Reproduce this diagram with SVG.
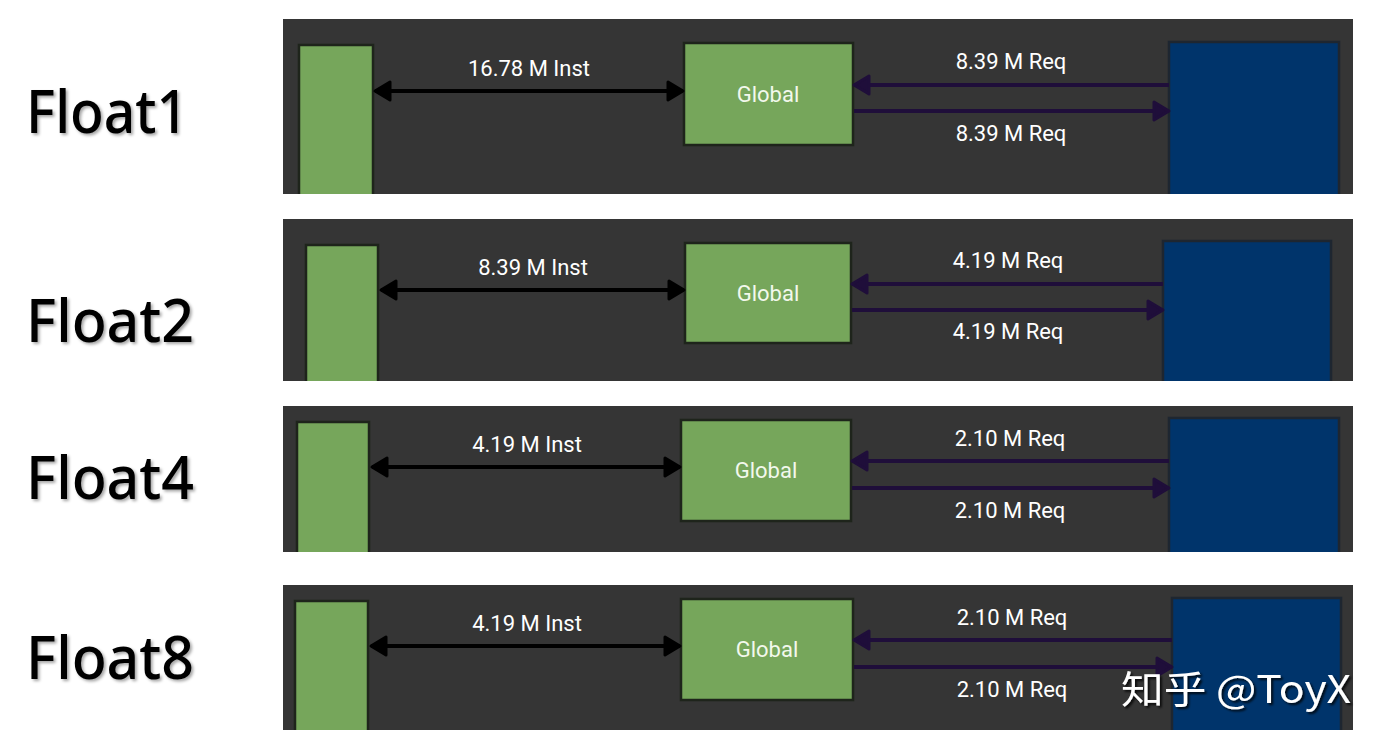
<svg xmlns="http://www.w3.org/2000/svg" width="1388" height="754" viewBox="0 0 1388 754">
<style>
.bg{fill:#353535}
.mem{fill:#76a65b;stroke:#1e241b;stroke-width:2.5}
.dram{fill:#00346b;stroke:#1e2630;stroke-width:2.5}
.lbl{font-family:Roboto,"Liberation Sans",sans-serif;font-size:22px;fill:#ffffff;text-anchor:middle}
.glb{font-family:Roboto,"Liberation Sans",sans-serif;font-size:22px;fill:#f2f8ec;text-anchor:middle}
.ttl{font-family:"Noto Sans","Open Sans",sans-serif;font-size:60px;font-weight:500;fill:#000000}
.inst{stroke:#000000;stroke-width:4;fill:none;marker-start:url(#ak);marker-end:url(#ak)}
.req{stroke:#1f0e3a;stroke-width:4;fill:none;marker-end:url(#ap)}
.wm{font-family:"Noto Sans CJK SC","Noto Sans",sans-serif;font-size:38px;fill:#ffffff}
</style>
<defs>
<marker id="ak" markerUnits="userSpaceOnUse" markerWidth="20" markerHeight="24" refX="17" refY="12" orient="auto-start-reverse" viewBox="0 0 20 24">
<path d="M2,3 L17,12 L2,21 z" fill="#000000" stroke="#000000" stroke-width="3" stroke-linejoin="round"/>
</marker>
<marker id="ap" markerUnits="userSpaceOnUse" markerWidth="20" markerHeight="24" refX="17" refY="12" orient="auto" viewBox="0 0 20 24">
<path d="M2,3 L17,12 L2,21 z" fill="#1f0e3a" stroke="#1f0e3a" stroke-width="3" stroke-linejoin="round"/>
</marker>
<filter id="sh" x="-10%" y="-10%" width="130%" height="140%">
<feDropShadow dx="2" dy="2" stdDeviation="1.5" flood-color="#000000" flood-opacity="0.35"/>
</filter>
<filter id="shw" x="-10%" y="-10%" width="130%" height="140%">
<feDropShadow dx="2" dy="2" stdDeviation="1" flood-color="#000000" flood-opacity="0.8"/>
</filter>
<clipPath id="c1"><rect x="283" y="19" width="1070" height="175"/></clipPath>
<clipPath id="c2"><rect x="283" y="219" width="1070" height="162"/></clipPath>
<clipPath id="c3"><rect x="283" y="406" width="1070" height="146"/></clipPath>
<clipPath id="c4"><rect x="283" y="585" width="1070" height="145"/></clipPath>
</defs>
<rect x="0" y="0" width="1388" height="754" fill="#ffffff"/>

<g id="titles" filter="url(#sh)">
<text class="ttl" x="26" y="133" textLength="162" lengthAdjust="spacingAndGlyphs">Float1</text>
<text class="ttl" x="26" y="342" textLength="168" lengthAdjust="spacingAndGlyphs">Float2</text>
<text class="ttl" x="26" y="499" textLength="168" lengthAdjust="spacingAndGlyphs">Float4</text>
<text class="ttl" x="26" y="679" textLength="168" lengthAdjust="spacingAndGlyphs">Float8</text>
</g>

<g id="panel1" clip-path="url(#c1)">
<rect class="bg" x="283" y="19" width="1070" height="175"/>
<g id="p1-local"><rect class="mem" x="299" y="45" width="74" height="160"/></g>
<g id="p1-global"><rect class="mem" x="684" y="43" width="169" height="102"/><text class="glb" x="768" y="102">Global</text></g>
<g id="p1-dram"><rect class="dram" x="1169" y="42" width="170" height="165"/></g>
</g>

<g id="panel2" clip-path="url(#c2)">
<rect class="bg" x="283" y="219" width="1070" height="162"/>
<g id="p2-local"><rect class="mem" x="306" y="245" width="72" height="150"/></g>
<g id="p2-global"><rect class="mem" x="685" y="243" width="166" height="100"/><text class="glb" x="768" y="301">Global</text></g>
<g id="p2-dram"><rect class="dram" x="1163" y="241" width="168" height="155"/></g>
</g>

<g id="panel3" clip-path="url(#c3)">
<rect class="bg" x="283" y="406" width="1070" height="146"/>
<g id="p3-local"><rect class="mem" x="297" y="422" width="72" height="145"/></g>
<g id="p3-global"><rect class="mem" x="681" y="420" width="170" height="101"/><text class="glb" x="766" y="478">Global</text></g>
<g id="p3-dram"><rect class="dram" x="1169" y="418" width="170" height="150"/></g>
</g>

<g id="panel4" clip-path="url(#c4)">
<rect class="bg" x="283" y="585" width="1070" height="145"/>
<g id="p4-local"><rect class="mem" x="295" y="601" width="73" height="145"/></g>
<g id="p4-global"><rect class="mem" x="681" y="599" width="172" height="101"/><text class="glb" x="767" y="657">Global</text></g>
<g id="p4-dram"><rect class="dram" x="1172" y="598" width="169" height="150"/></g>
</g>

<g id="connectors">
<line class="inst" x1="375" y1="91" x2="683" y2="91"/>
<line class="req" x1="1169" y1="85" x2="854" y2="85"/>
<line class="req" x1="854" y1="111" x2="1169" y2="111"/>

<line class="inst" x1="381" y1="290" x2="684" y2="290"/>
<line class="req" x1="1163" y1="284" x2="852" y2="284"/>
<line class="req" x1="852" y1="310" x2="1163" y2="310"/>

<line class="inst" x1="372" y1="467" x2="680" y2="467"/>
<line class="req" x1="1169" y1="461" x2="852" y2="461"/>
<line class="req" x1="852" y1="488" x2="1169" y2="488"/>

<line class="inst" x1="371" y1="646" x2="680" y2="646"/>
<line class="req" x1="1172" y1="640" x2="854" y2="640"/>
<line class="req" x1="854" y1="667" x2="1172" y2="667"/>
</g>

<g id="labels">
<text class="lbl" x="529" y="76">16.78 M Inst</text>
<text class="lbl" x="1011" y="69">8.39 M Req</text>
<text class="lbl" x="1011" y="141">8.39 M Req</text>

<text class="lbl" x="533" y="275">8.39 M Inst</text>
<text class="lbl" x="1008" y="268">4.19 M Req</text>
<text class="lbl" x="1008" y="339">4.19 M Req</text>

<text class="lbl" x="527" y="452">4.19 M Inst</text>
<text class="lbl" x="1010" y="446">2.10 M Req</text>
<text class="lbl" x="1010" y="518">2.10 M Req</text>

<text class="lbl" x="527" y="631">4.19 M Inst</text>
<text class="lbl" x="1012" y="625">2.10 M Req</text>
<text class="lbl" x="1012" y="697">2.10 M Req</text>
</g>

<g id="watermark" filter="url(#shw)">
<text class="wm" x="1121" y="703" textLength="230" lengthAdjust="spacingAndGlyphs">知乎 @ToyX</text>
</g>
</svg>
